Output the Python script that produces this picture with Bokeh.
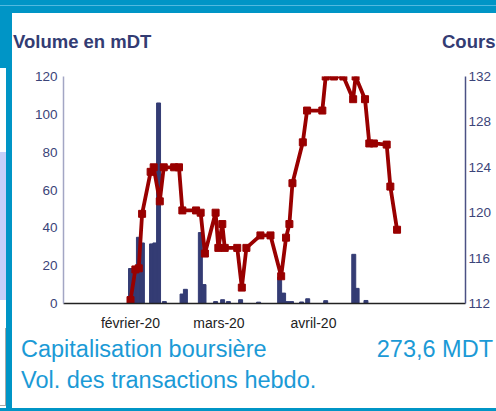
import pandas as pd
from bokeh.plotting import figure
from bokeh.layouts import column
from bokeh.models import Range1d, LinearAxis, FixedTicker, Div
from bokeh.embed import file_html
from bokeh.resources import INLINE

# x positions are days since 1 January 2020
vol_day = [31.0, 32.3, 33.6, 34.9, 37.9, 39.0, 40.2, 42.1, 47.9, 49.0, 53.9, 55.1,
           58.9, 61.2, 63.1, 67.1, 73.0, 79.9, 81.2, 82.5, 83.8, 87.1, 89.1, 95.0,
           104.2, 105.3, 108.2]
vol_mdt = [18.5, 14, 35, 32, 31.5, 32, 106, 1, 5, 7.5, 37.5, 10,
           1, 2, 1, 2, 0.7, 14, 5.5, 1, 1, 0.8, 2.5, 1.5,
           26, 8, 1.6]

cours_day = [31.0, 32.6, 33.7, 34.8, 37.6, 38.6, 40.6, 41.9, 45.3, 46.9, 48.0, 52.5,
             54.0, 55.4, 58.9, 59.8, 61.1, 61.9, 66.0, 67.5, 69.0, 73.6, 76.9, 80.4,
             82.0, 83.1, 84.1, 87.5, 88.9, 93.9, 95.0, 97.7, 100.8, 104.0, 104.8,
             107.9, 109.3, 110.8, 115.0, 116.2, 118.4]
cours = [112.3, 115.0, 115.1, 119.9, 123.6, 124.0, 121.0, 124.0, 124.0, 124.0, 120.2, 120.2,
         120.0, 116.4, 120.0, 116.9, 119.0, 116.9, 116.9, 113.4, 116.9, 118.0, 118.0, 114.4,
         117.8, 119.0, 122.6, 126.2, 129.0, 129.0, 132.0, 132.0, 132.0, 130.0, 132.0,
         130.0, 126.1, 126.1, 126.0, 122.3, 118.5]

month_ticks = [31, 60, 91]
month_labels = ["février-20", "mars-20", "avril-20"]
vol_ticks = [0, 20, 40, 60, 80, 100, 120]
cours_ticks = [112, 116, 120, 124, 128, 132]

title_left = "Volume en mDT"
title_right = "Cours"
cap_label = "Capitalisation boursière"
cap_value = "273,6 MDT"
vol_label = "Vol. des transactions hebdo."

FONT = "Liberation Sans"
NAVY = "#333c73"
TEAL = "#0095c6"
BLUE = "#1b9ad6"

TOP_H = 60
BOT_H = 78
FIG_H = 411 - TOP_H - BOT_H

p = figure(width=496, height=FIG_H, x_range=Range1d(9.03, 140.84), y_range=Range1d(0, 120),
           output_backend="svg", toolbar_location=None,
           min_border_left=63, min_border_right=31, min_border_top=76 - TOP_H,
           min_border_bottom=FIG_H - (303 - TOP_H))
p.margin = 0
p.extra_y_ranges = {"cours": Range1d(112, 132)}

p.grid.visible = False
p.outline_line_color = None
p.background_fill_color = "white"
p.border_fill_alpha = 0

p.vbar(x=vol_day, top=vol_mdt, width=1.3, color="#343c74")
p.line(cours_day, cours, y_range_name="cours", color="#990000", line_width=3.8)
p.scatter(cours_day, cours, y_range_name="cours", marker="square", size=7, color="#990000")

# left axis
ya = p.yaxis[0]
ya.ticker = FixedTicker(ticks=vol_ticks)
ya.axis_line_color = "#a3a6c4"
ya.axis_line_width = 1.5
ya.major_tick_out = 0
ya.major_tick_in = 0
ya.minor_tick_out = 0
ya.minor_tick_in = 0
ya.major_label_standoff = 6
ya.major_label_text_color = "#3b4479"
ya.major_label_text_font = FONT
ya.major_label_text_font_size = "13.5px"

# right axis
ra = LinearAxis(y_range_name="cours", ticker=FixedTicker(ticks=cours_ticks))
ra.axis_line_color = "#4b5184"
ra.axis_line_width = 1.5
ra.major_tick_out = 0
ra.major_tick_in = 0
ra.minor_tick_out = 0
ra.minor_tick_in = 0
ra.major_label_standoff = 3
ra.major_label_text_color = "#3b4479"
ra.major_label_text_font = FONT
ra.major_label_text_font_size = "13.5px"
p.add_layout(ra, "right")

# bottom axis
xa = p.xaxis[0]
xa.ticker = FixedTicker(ticks=month_ticks)
xa.major_label_overrides = {t: l for t, l in zip(month_ticks, month_labels)}
xa.axis_line_color = "#222222"
xa.axis_line_width = 1.5
xa.major_tick_out = 0
xa.major_tick_in = 0
xa.minor_tick_out = 0
xa.minor_tick_in = 0
xa.major_label_standoff = 11
xa.major_label_text_color = "#222222"
xa.major_label_text_font = FONT
xa.major_label_text_font_size = "14px"


def span(text, top, size, color, bold=False, left=None, right=None):
    pos = f"left:{left}px;" if left is not None else f"right:{right}px;"
    return (f'<span style="position:absolute;{pos}top:{top}px;font-size:{size}px;'
            f'line-height:1;white-space:nowrap;color:{color};'
            f'font-weight:{"bold" if bold else "normal"};">{text}</span>')


def box(h, inner):
    return (f'<div style="position:relative;width:496px;height:{h}px;'
            f"font-family:'{FONT}';\">{inner}</div>")


top_div = Div(text=box(TOP_H, span(title_left, 33, 18.5, NAVY, True, left=13)
                       + span(title_right, 33, 18.5, NAVY, True, left=442)),
              width=496, height=TOP_H, margin=0)
y0 = TOP_H + FIG_H
bot_div = Div(text=box(BOT_H, span(cap_label, 338 - y0, 23.5, BLUE, left=21)
                       + span(cap_value, 338 - y0, 23.5, BLUE, right=3)
                       + span(vol_label, 369 - y0, 23.5, BLUE, left=21)),
              width=496, height=BOT_H, margin=0)

bg = [
    "linear-gradient(#52b9e0,#52b9e0) 0 5px / 100% 1px no-repeat",
    f"linear-gradient({TEAL},{TEAL}) 0 0 / 100% 13px no-repeat",
    f"linear-gradient({TEAL},{TEAL}) 0 408px / 100% 3px no-repeat",
    f"linear-gradient({TEAL},{TEAL}) 6px 0 / 6px 100% no-repeat",
    f"linear-gradient({TEAL},{TEAL}) 0 0 / 12px 68px no-repeat",
    "linear-gradient(#c6d0fa,#c6d0fa) 0 152px / 6px 148px no-repeat",
    "linear-gradient(#a8a8a8,#a8a8a8) 5px 328px / 1px 78px no-repeat",
    "linear-gradient(#a8a8a8,#a8a8a8) 0 405px / 6px 1px no-repeat",
    "white",
]

layout = column(top_div, p, bot_div, width=496, height=411, spacing=0, margin=0)
layout.styles = {"background": ", ".join(bg)}

open("out.html", "w").write(file_html(layout, INLINE))
